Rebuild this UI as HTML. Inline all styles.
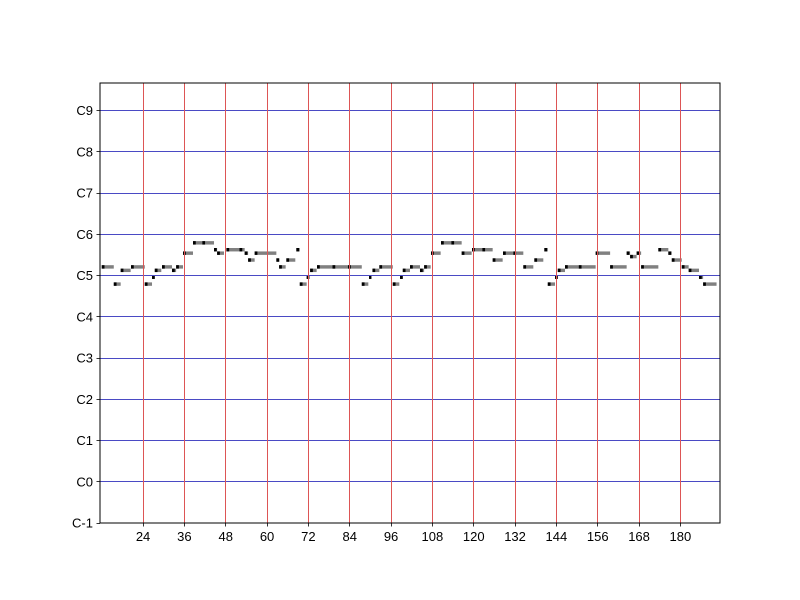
<!DOCTYPE html>
<html><head><meta charset="utf-8"><style>
body{margin:0;background:#fff;}
svg{display:block;font-family:"Liberation Sans","DejaVu Sans",sans-serif;}
</style></head><body>
<svg id="chart" width="800" height="600"></svg>
<script>
const noteStarts=[12,15.5,17.5,20.5,24.5,26.6,27.4,29.5,32.4,33.6,35.6,38.5,41.2,44.6,45.5,48.2,52,53.5,54.5,56.4,62.7,63.5,65.6,68.5,69.5,71.5,72.5,74.5,79,83.5,87.5,89.6,90.6,92.6,96.5,98.6,99.4,101.5,104.4,105.6,107.6,110.5,113.5,116.5,119.5,122.5,125.5,128.5,131.5,134.4,137.6,140.5,141.5,143.6,144.4,146.5,150.5,155.4,159.6,164.4,165.4,167.3,168.6,173.6,176.5,177.5,180.4,182.4,185.4,186.6];
const noteEnds=[15.5,17.5,20.4,24.5,26.6,27.4,29.3,32.4,33.6,35.6,38.5,41.2,44.6,45.5,47.5,52,53.5,54.5,56.4,62.7,63.6,65.4,68.2,69.5,71.5,72.3,74.4,79,83.5,87.5,89.4,90.3,92.6,96.5,98.4,99.4,101.5,104.4,105.6,107.5,110.4,113.5,116.5,119.4,122.5,125.5,128.4,131.5,134.4,137.3,140.2,141.5,143.6,144.4,146.5,150.5,155.4,159.6,164.4,165.4,167.3,168.6,173.6,176.5,177.5,180.4,182.4,185.4,186.6,190.5];
const notePitches=[74,69,73,74,69,71,73,74,73,74,78,81,81,79,78,79,79,78,76,78,76,74,76,79,69,71,73,74,74,74,69,71,73,74,69,71,73,74,73,74,78,81,81,78,79,79,76,78,78,74,76,79,69,71,73,74,74,78,74,78,77,78,74,79,78,76,74,73,71,69];
const xTicks=[24,36,48,60,72,84,96,108,120,132,144,156,168,180];
const yTicks=[0,12,24,36,48,60,72,84,96,108,120];
const yTickLabels=["C-1","C0","C1","C2","C3","C4","C5","C6","C7","C8","C9"];

const L=100,R=720,T=83,B=523,X0=11.5,X1=191.5,Y0=0,Y1=128;
const sx=t=>L+(t-X0)*(R-L)/(X1-X0);
const sy=p=>B-(p-Y0)*(B-T)/(Y1-Y0);
const crisp=v=>Math.round(v-0.5)+0.5;
const NS="http://www.w3.org/2000/svg";
const svg=document.getElementById('chart');
function mk(tag,attrs,parent){const e=document.createElementNS(NS,tag);for(const k in attrs)e.setAttribute(k,attrs[k]);(parent||svg).appendChild(e);return e;}

const notes=mk('g',{});


noteStarts.forEach((s,i)=>{
  const e=noteEnds[i],p=notePitches[i];
  const y=sy(p+1),h=sy(p)-sy(p+1);
  const body=mk('rect',{x:sx(s),y:y,width:Math.max(0,sx(e)-sx(s)),height:h,fill:'#808080'},notes);
  
  
  const head=mk('rect',{x:sx(s),y:y,width:Math.min(sx(e)-sx(s),sx(s+0.8)-sx(s)),height:h,fill:'#000'},notes);
  
  
});

const grid=mk('g',{});


yTicks.forEach((p,i)=>{
  const yy=crisp(sy(p));
  if(i>0){const l=mk('line',{x1:L,x2:R,y1:yy,y2:yy,stroke:'#4a4ac4','stroke-width':1},grid);
  
  }
  const tk=mk('line',{x1:L-3.5,x2:L,y1:yy,y2:yy,stroke:'#000','stroke-width':0.8});
  
  
  const tx=mk('text',{x:L-7,y:sy(p)+4.5,'text-anchor':'end','font-size':13,fill:'#000'});
  tx.textContent=yTickLabels[i];
  
  
});
xTicks.forEach(t=>{
  const xx=crisp(sx(t));
  const l=mk('line',{x1:xx,x2:xx,y1:T,y2:B,stroke:'#dd5555','stroke-width':1},grid);
  
  
  const tk=mk('line',{x1:xx,x2:xx,y1:B,y2:B+3.5,stroke:'#000','stroke-width':0.8});
  
  
  const tx=mk('text',{x:sx(t),y:B+18,'text-anchor':'middle','font-size':13,fill:'#000'});
  tx.textContent=t;
  
  
});

const frame=mk('rect',{x:L,y:T,width:R-L,height:B-T,fill:'none',stroke:'#000','stroke-width':1});


</script>
</body></html>
